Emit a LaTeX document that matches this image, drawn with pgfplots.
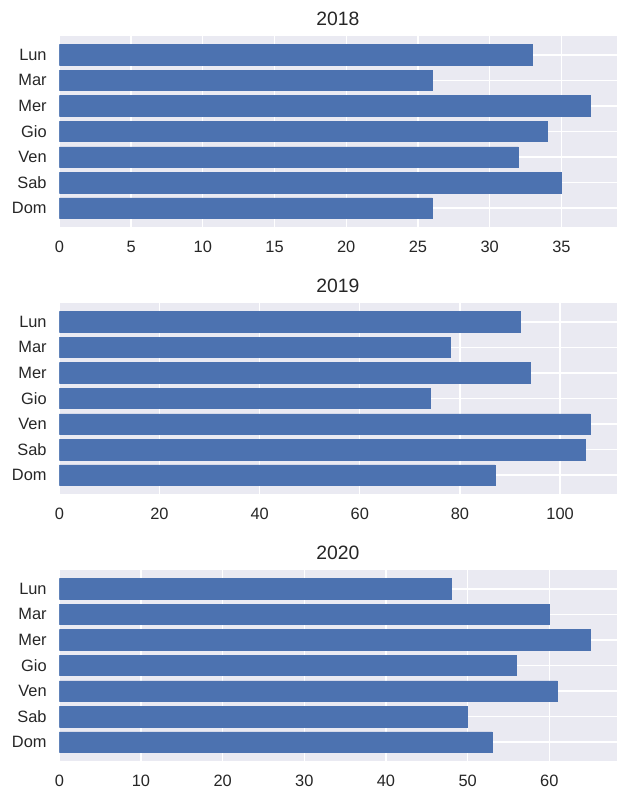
\documentclass[border=0pt]{standalone}
\usepackage{pgfplots}
\pgfplotsset{compat=1.18}
\usepackage{fontspec}
\setmainfont{Liberation Sans}
\definecolor{sbblue}{HTML}{4C72B0}
\definecolor{sbbg}{HTML}{EAEAF2}
\pgfplotsset{
  giorni/.style={
    scale only axis, width=418pt, height=143.25pt,
    xbar, bar width=0.8, bar shift=0pt,
    y dir=reverse, ymin=-0.74, ymax=6.74, xmin=0,
    ytick={0,...,6}, yticklabels={Lun,Mar,Mer,Gio,Ven,Sab,Dom},
    axis line style={draw=none}, major tick length=0pt,
    grid=major, major grid style={white, line width=1pt},
    axis background/.style={fill=sbbg},
    axis on top=false,
    tick label style={font=\fontsize{12.3}{14}\selectfont, text=black!85},
    yticklabel style={xshift=-6pt},
    xticklabel style={yshift=-7pt},
    title style={font=\fontsize{14.5}{17}\selectfont, text=black!85, yshift=-2pt},
    /pgf/number format/assume math mode=true,
    anchor=south west,
  }
}
\begin{document}
\begin{tikzpicture}
\path[use as bounding box] (-44.5pt,-429.75pt) rectangle (427.3pt,170.25pt);
\begin{axis}[giorni, at={(0pt,0pt)}, xmax=38.85, xtick={0,5,...,35}, title={2018}]
\addplot[fill=sbblue, draw=sbblue] coordinates {(33,0) (26,1) (37,2) (34,3) (32,4) (35,5) (26,6)};
\end{axis}
\begin{axis}[giorni, at={(0pt,-200.25pt)}, xmax=111.3, xtick={0,20,...,100}, title={2019}]
\addplot[fill=sbblue, draw=sbblue] coordinates {(92,0) (78,1) (94,2) (74,3) (106,4) (105,5) (87,6)};
\end{axis}
\begin{axis}[giorni, at={(0pt,-400.5pt)}, xmax=68.25, xtick={0,10,...,60}, title={2020}]
\addplot[fill=sbblue, draw=sbblue] coordinates {(48,0) (60,1) (65,2) (56,3) (61,4) (50,5) (53,6)};
\end{axis}
\end{tikzpicture}
\end{document}
